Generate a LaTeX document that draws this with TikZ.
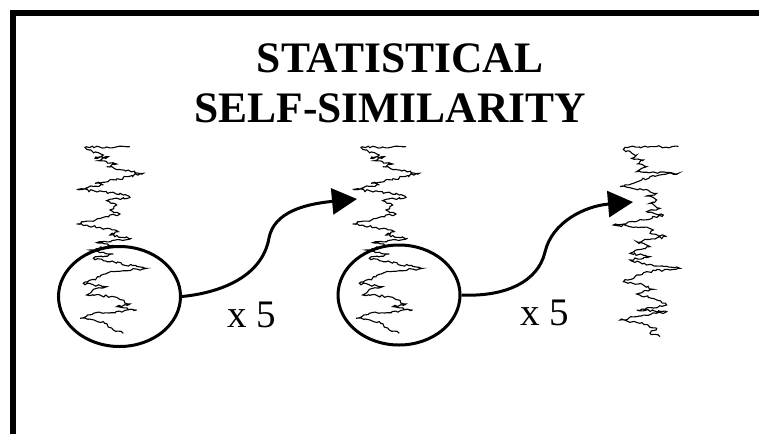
\documentclass[tikz,border=0pt]{standalone}
\usepackage{fontspec}
\setmainfont{Liberation Serif}
\usetikzlibrary{shapes.geometric,arrows.meta,decorations.pathmorphing}
\tikzset{
  frame/.style={line width=6pt, line join=miter},
  trace/.style={line width=1.1pt, line join=miter, decorate,
    decoration={random steps, segment length=2.5pt, amplitude=1.2pt}},
  lens/.style={ellipse, draw, line width=3pt, minimum width=122pt, minimum height=100pt, inner sep=0pt},
  conn/.style={line width=3pt, -{Triangle[length=25pt,width=26pt]}},
  titletext/.style={font=\bfseries\fontsize{43.5}{50}\selectfont, anchor=base, inner sep=0pt},
  factor/.style={font=\fontsize{39}{42}\selectfont, anchor=base, inner sep=0pt}
}
\newcommand{\traceA}{(210,20)(75,22)(80,28)(130,45)(105,55)(145,50)(115,62)(170,72)(140,80)(250,100)(200,110)(180,118)(105,130)(130,135)(50,148)(130,155)(190,165)(210,172)(140,182)(170,195)(150,210)(180,222)(130,232)(110,238)(50,252)(120,262)(175,275)(150,285)(215,295)(110,308)(160,316)(90,330)(160,342)(100,355)(260,385)(160,395)(70,430)(140,440)(100,448)(80,465)(160,470)(210,492)(170,500)(230,510)(100,520)(60,535)(130,545)(160,570)(190,580)}
\newcommand{\traceB}{(235,20)(75,22)(70,28)(110,45)(95,55)(130,60)(110,72)(140,80)(110,95)(235,100)(150,110)(100,130)(60,140)(130,150)(170,160)(140,168)(170,180)(150,190)(180,205)(140,215)(190,225)(130,240)(40,255)(130,262)(160,270)(150,280)(200,290)(110,305)(150,320)(90,340)(150,350)(90,360)(140,375)(240,385)(140,395)(70,425)(130,435)(160,448)(110,462)(160,475)(200,495)(110,510)(200,515)(110,530)(60,540)(120,550)(170,565)(150,580)(180,590)}
\begin{document}
\begin{tikzpicture}[x=1pt,y=-1pt]
\pgfmathsetseed{7}
\useasboundingbox (0,0) rectangle (759,434);
% frame (top and left edges)
\draw[frame] (13,434) -- (13,13) -- (759,13);
% title
\node[titletext] (t1) at (400,72) {STATISTICAL};
\node[titletext] (t2) at (390,122) {SELF-SIMILARITY};
% traces
\begin{scope}[shift={(60,140)}, x=0.3333pt, y=-0.3333pt]
  \pgfmathsetseed{11}
  \draw[trace] plot coordinates {\traceA};
\end{scope}
\begin{scope}[shift={(336,140)}, x=0.3333pt, y=-0.3333pt]
  \pgfmathsetseed{11}
  \draw[trace] plot coordinates {\traceA};
\end{scope}
\begin{scope}[shift={(600,140)}, x=0.3333pt, y=-0.3333pt]
  \pgfmathsetseed{23}
  \draw[trace] plot coordinates {\traceB};
\end{scope}
% magnifier ellipses
\node[lens] (e1) at (119.5,296.5) {};
\node[lens] (e2) at (399,295) {};
% arrow end points
\coordinate (a1) at (357,199);
\coordinate (a2) at (633,202);
% connectors
\draw[conn] (e1.east) .. controls (218,293) and (262,278) .. (269,238)
  .. controls (274,212) and (305,204) .. (a1);
\draw[conn] (e2.east) .. controls (505,297) and (538,282) .. (545,252)
  .. controls (552,222) and (585,206) .. (a2);
% labels
\node[factor] (f1) at (252,327) {x 5};
\node[factor] (f2) at (545,325) {x 5};
\end{tikzpicture}
\end{document}
